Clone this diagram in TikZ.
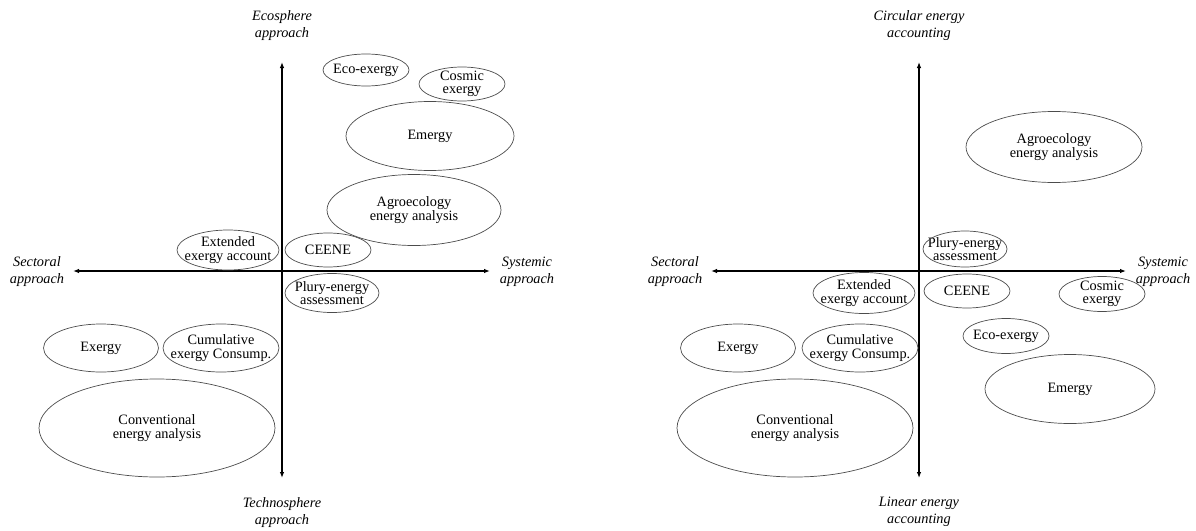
\documentclass[tikz,border=0pt]{standalone}
\usepackage{fontspec}
\setmainfont{Liberation Serif}
\usetikzlibrary{arrows.meta}

\begin{document}
\begin{tikzpicture}[x=1pt,y=-1pt,
    axis/.style={line width=1.1pt,{Latex[length=6pt,width=4.5pt]}-{Latex[length=6pt,width=4.5pt]}},
    ring/.style={draw=black!70,line width=0.7pt},
    txt/.style={align=center,inner sep=0pt,font=\fontsize{14.3}{13.3}\selectfont},
    lab/.style={align=center,inner sep=0pt,font=\fontsize{14.3}{17}\selectfont\itshape}]
    \useasboundingbox (0,0) rectangle (1196,530);
    % Left: axes
    \coordinate (lN) at (282,62);
    \coordinate (lS) at (282,478);
    \coordinate (lW) at (73,271);
    \coordinate (lE) at (490,271);
    \draw [axis] (lS) -- (lN);
    \draw [axis] (lW) -- (lE);
    \node [lab] (ecosphere) at (282,26) {Ecosphere\\approach};
    \node [lab] (technosphere) at (282,513) {Technosphere\\approach};
    \node [lab] (sectoralL) at (37,272) {Sectoral\\approach};
    \node [lab] (systemicL) at (527,272) {Systemic\\approach};
    % Left: methods
    \node [txt] (ecoL) at (366,70) {Eco-exergy};
    \draw [ring] (ecoL) ellipse (43pt and 16pt);
    \node [txt] (cosL) at (462,84) {Cosmic\\exergy};
    \draw [ring] (cosL) ellipse (43pt and 17pt);
    \node [txt] (emeL) at (430,136) {Emergy};
    \draw [ring] (emeL) ellipse (84pt and 34.5pt);
    \node [txt] (agrL) at (414,210) {Agroecology\\energy analysis};
    \draw [ring] (agrL) ellipse (87pt and 35.5pt);
    \node [txt] (extL) at (228,250) {Extended\\exergy account};
    \draw [ring] (extL) ellipse (51pt and 20pt);
    \node [txt] (ceeL) at (328,250) {CEENE};
    \draw [ring] (ceeL) ellipse (43pt and 17pt);
    \node [txt] (pluL) at (332,293) {Plury-energy\\assessment};
    \draw [ring] (pluL) ellipse (47pt and 19.5pt);
    \node [txt] (exeL) at (101,348) {Exergy};
    \draw [ring] (exeL) ellipse (57.5pt and 24pt);
    \node [txt] (cumL) at (221,348) {Cumulative\\exergy Consump.};
    \draw [ring] (cumL) ellipse (58pt and 24pt);
    \node [txt] (conL) at (157,428) {Conventional\\energy analysis};
    \draw [ring] (conL) ellipse (118pt and 49pt);
    % Right: axes
    \coordinate (rN) at (919,62);
    \coordinate (rS) at (919,478);
    \coordinate (rW) at (711,271);
    \coordinate (rE) at (1126,271);
    \draw [axis] (rS) -- (rN);
    \draw [axis] (rW) -- (rE);
    \node [lab] (circular) at (919,26) {Circular energy\\accounting};
    \node [lab] (linear) at (919,512) {Linear energy\\accounting};
    \node [lab] (sectoralR) at (675,272) {Sectoral\\approach};
    \node [lab] (systemicR) at (1163,272) {Systemic\\approach};
    % Right: methods
    \node [txt] (agrR) at (1054,147) {Agroecology\\energy analysis};
    \draw [ring] (agrR) ellipse (88pt and 35.5pt);
    \node [txt] (pluR) at (965,249) {Plury-energy\\assessment};
    \draw [ring] (pluR) ellipse (42pt and 18pt);
    \node [txt] (extR) at (864,293) {Extended\\exergy account};
    \draw [ring] (extR) ellipse (51pt and 20.5pt);
    \node [txt] (ceeR) at (967,291) {CEENE};
    \draw [ring] (ceeR) ellipse (43pt and 17pt);
    \node [txt] (cosR) at (1102,294) {Cosmic\\exergy};
    \draw [ring] (cosR) ellipse (43pt and 17.5pt);
    \node [txt] (ecoR) at (1006,336) {Eco-exergy};
    \draw [ring] (ecoR) ellipse (43pt and 17.5pt);
    \node [txt] (exeR) at (738,348) {Exergy};
    \draw [ring] (exeR) ellipse (57.5pt and 24pt);
    \node [txt] (cumR) at (860,348) {Cumulative\\exergy Consump.};
    \draw [ring] (cumR) ellipse (58pt and 24pt);
    \node [txt] (emeR) at (1070,389) {Emergy};
    \draw [ring] (emeR) ellipse (85pt and 34.5pt);
    \node [txt] (conR) at (795,428) {Conventional\\energy analysis};
    \draw [ring] (conR) ellipse (118pt and 49pt);
\end{tikzpicture}
\end{document}
